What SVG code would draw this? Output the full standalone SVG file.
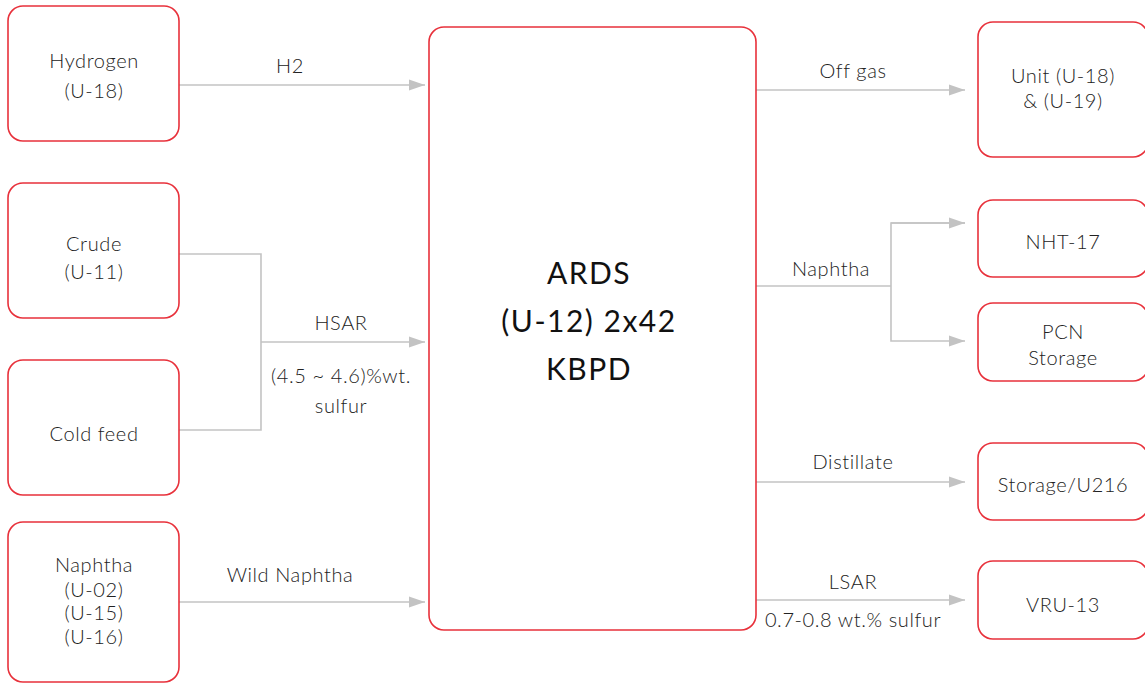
<svg xmlns="http://www.w3.org/2000/svg" width="1145" height="684" viewBox="0 0 1145 684">
<style>
.n{fill:#fff;stroke:#e8313b;stroke-width:1.6}
.c{fill:none;stroke:#c3c3c3;stroke-width:1.6}
.t{font-family:Lato,"Liberation Sans",sans-serif;font-size:20px;font-weight:300;letter-spacing:0.6px;fill:#222;text-anchor:middle}
.m{font-family:Lato,"Liberation Sans",sans-serif;font-size:30px;font-weight:400;letter-spacing:1.5px;fill:#111;text-anchor:middle}
</style>
<defs>
<marker id="a" markerWidth="16" markerHeight="12" refX="16" refY="6" orient="auto" markerUnits="userSpaceOnUse">
<polygon points="0,0.5 16,6 0,11.5" fill="#c3c3c3"/>
</marker>
</defs>
<g id="connectors">
<line class="c" x1="179" y1="85" x2="425" y2="85" marker-end="url(#a)"/>
<polyline class="c" points="179,254 261,254 261,430 179,430"/>
<line class="c" x1="261" y1="342" x2="425" y2="342" marker-end="url(#a)"/>
<line class="c" x1="179" y1="602" x2="425" y2="602" marker-end="url(#a)"/>
<line class="c" x1="756" y1="90" x2="965" y2="90" marker-end="url(#a)"/>
<line class="c" x1="756" y1="286" x2="891" y2="286"/>
<polyline class="c" points="965,223 891,223 891,341 965,341" marker-end="url(#a)"/>
<line class="c" x1="891" y1="223" x2="965" y2="223" marker-end="url(#a)"/>
<line class="c" x1="756" y1="482" x2="965" y2="482" marker-end="url(#a)"/>
<line class="c" x1="756" y1="600" x2="965" y2="600" marker-end="url(#a)"/>
<text class="t" x="290" y="73">H2</text>
<text class="t" x="341" y="330">HSAR</text>
<text class="t" x="341" y="383">(4.5 ~ 4.6)%wt.</text>
<text class="t" x="341" y="413">sulfur</text>
<text class="t" x="290" y="582">Wild Naphtha</text>
<text class="t" x="853" y="78">Off gas</text>
<text class="t" x="831" y="276">Naphtha</text>
<text class="t" x="853" y="469">Distillate</text>
<text class="t" x="853" y="589">LSAR</text>
<text class="t" x="853" y="627">0.7-0.8 wt.% sulfur</text>
</g>
<g id="hydrogen">
<rect class="n" x="8" y="6" width="171" height="135" rx="15"/>
<text class="t" x="94" y="68">Hydrogen</text>
<text class="t" x="94" y="98">(U-18)</text>
</g>
<g id="crude">
<rect class="n" x="8" y="183" width="171" height="135" rx="15"/>
<text class="t" x="94" y="251">Crude</text>
<text class="t" x="94" y="279">(U-11)</text>
</g>
<g id="coldfeed">
<rect class="n" x="8" y="360" width="171" height="135" rx="15"/>
<text class="t" x="94" y="441">Cold feed</text>
</g>
<g id="naphtha-src">
<rect class="n" x="8" y="522" width="171" height="160" rx="15"/>
<text class="t" x="94" y="572">Naphtha</text>
<text class="t" x="94" y="597">(U-02)</text>
<text class="t" x="94" y="620">(U-15)</text>
<text class="t" x="94" y="644">(U-16)</text>
</g>
<g id="ards">
<rect class="n" x="429" y="27" width="327" height="603" rx="15"/>
<text class="m" x="589" y="284">ARDS</text>
<text class="m" x="589" y="332">(U-12) 2x42</text>
<text class="m" x="589" y="380">KBPD</text>
</g>
<g id="unit">
<rect class="n" x="978" y="22" width="170" height="135" rx="15"/>
<text class="t" x="1063" y="83">Unit (U-18)</text>
<text class="t" x="1063" y="108">&amp; (U-19)</text>
</g>
<g id="nht">
<rect class="n" x="978" y="200" width="170" height="77" rx="15"/>
<text class="t" x="1063" y="249">NHT-17</text>
</g>
<g id="pcn">
<rect class="n" x="978" y="303" width="170" height="78" rx="15"/>
<text class="t" x="1063" y="339">PCN</text>
<text class="t" x="1063" y="365">Storage</text>
</g>
<g id="storage">
<rect class="n" x="978" y="443" width="170" height="77" rx="15"/>
<text class="t" x="1063" y="492">Storage/U216</text>
</g>
<g id="vru">
<rect class="n" x="978" y="561" width="170" height="78" rx="15"/>
<text class="t" x="1063" y="612">VRU-13</text>
</g>
</svg>
